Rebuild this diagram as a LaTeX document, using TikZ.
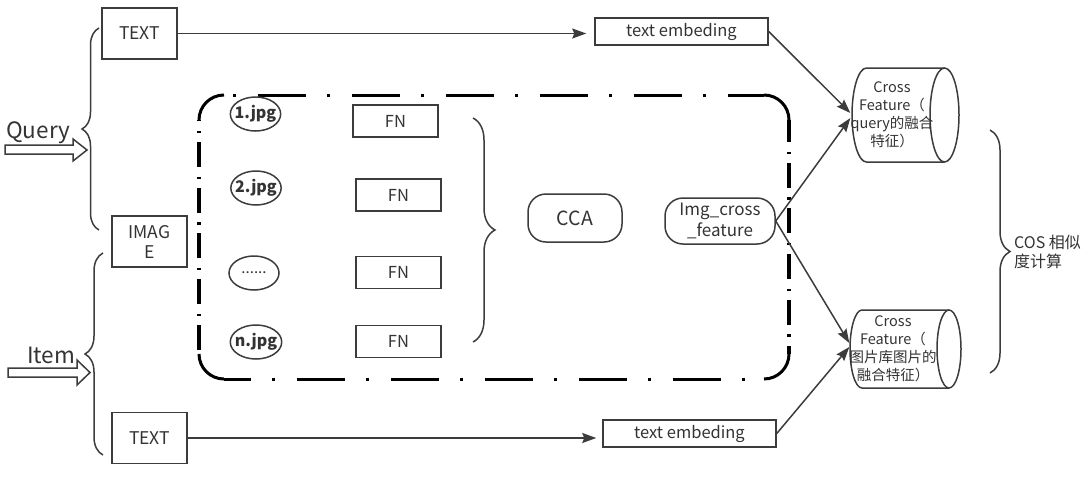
\documentclass[tikz,border=0pt]{standalone}
\usepackage{fontspec}
\setmainfont{Noto Sans CJK SC}
\usetikzlibrary{arrows.meta,decorations.pathreplacing,shapes.geometric}
\definecolor{ln}{HTML}{3C3C3C}
\definecolor{tx}{HTML}{333333}
\begin{document}
\begin{tikzpicture}[x=1pt,y=-1pt,
  every node/.style={text=tx, inner sep=0pt},
  box/.style={draw=ln, line width=1.5pt, minimum width=75pt, minimum height=51pt, font=\fontsize{17.5}{20}\selectfont, align=center},
  embox/.style={draw=ln, line width=1.5pt, minimum width=173pt, minimum height=27pt, font=\fontsize{16.5}{19}\selectfont},
  fnbox/.style={draw=ln, line width=1.5pt, minimum width=85pt, minimum height=32pt, font=\fontsize{16.5}{19}\selectfont},
  jpg/.style={draw=ln, line width=1.5pt, ellipse, inner xsep=-3pt, minimum width=50pt, minimum height=34pt, font=\bfseries\fontsize{16}{18}\selectfont},
  pill/.style={draw=ln, line width=1.5pt, rounded corners=18pt, align=center},
  cyltext/.style={align=center, font=\fontsize{14.5}{18}\selectfont},
  arr/.style={draw=ln, line width=1.5pt, -{Stealth[length=14pt,width=10pt,inset=2pt]}},
  brc/.style={draw=ln, line width=1.5pt, decorate},
  ddh/.style={draw=black, line width=3pt, dash pattern=on 48pt off 21pt on 3pt off 22pt},
  ddv/.style={draw=black, line width=3.5pt, dash pattern=on 25pt off 9.5pt on 2.5pt off 8.7pt},
  corner/.style={draw=black, line width=3pt},
  hollow/.style={draw=ln, line width=1.5pt, fill=white}
]
\useasboundingbox (0,0) rectangle (1089,480);

% left inputs
\node[box] (qtext) at (139.5,33.5) {TEXT};
\node[box] (image) at (149.5,241.5) {IMAG\\E};
\node[box] (itext) at (149.5,438) {TEXT};

\node[anchor=base west, font=\fontsize{22.5}{26}\selectfont] (qlab) at (6,138) {Query};
\node[anchor=base west, font=\fontsize{22.5}{26}\selectfont] (ilab) at (27,363) {Item};

\draw[hollow] (5,145) -- (73,145) -- (73,139) -- (87,150) -- (73,161) -- (73,154) -- (5,154) -- cycle;
\draw[hollow] (8,368) -- (77,368) -- (77,360) -- (90,372.5) -- (77,385) -- (77,377) -- (8,377) -- cycle;

\draw[brc, decoration={brace, amplitude=17pt}] (99,230) -- (99,28);
\draw[brc, decoration={brace, amplitude=18pt}] (103,455) -- (103,253);

% dash-dot frame
\draw[ddh, dash phase=60pt] (224,95) -- (764,95);
\draw[ddh, dash phase=21pt] (224,379) -- (764,379);
\draw[ddv, dash phase=23.7pt] (199,120) -- (199,354);
\draw[ddv, dash phase=3pt] (789,120) -- (789,354);
\draw[corner] (199,120) arc[start angle=180, end angle=270, radius=25];
\draw[corner] (764,95) arc[start angle=270, end angle=360, radius=25];
\draw[corner] (789,354) arc[start angle=0, end angle=90, radius=25];
\draw[corner] (224,379) arc[start angle=90, end angle=180, radius=25];

% images and FN
\node[jpg] (j1) at (255.5,114) {1.jpg};
\node[jpg] (j2) at (256,188) {2.jpg};
\node[jpg, font=\fontsize{15}{17}\selectfont] (j3) at (254,273) {......};
\node[jpg] (j4) at (256,342) {n.jpg};

\node[fnbox] (fn1) at (395.5,121) {FN};
\node[fnbox] (fn2) at (398.5,195) {FN};
\node[fnbox] (fn3) at (398.5,272.5) {FN};
\node[fnbox] (fn4) at (398.5,341.5) {FN};

\draw[brc, decoration={brace, amplitude=22pt}] (473,118) -- (473,342);

\node[pill, minimum width=94pt, minimum height=48pt, font=\fontsize{19.5}{22}\selectfont] (cca) at (575,218) {CCA};
\node[pill, minimum width=110pt, minimum height=46pt, font=\fontsize{17}{21}\selectfont] (img) at (720,221) {Img\_cross\\\_feature};

% embeddings
\node[embox] (qemb) at (681.5,31.5) {text embeding};
\node[embox] (iemb) at (689.5,433.5) {text embeding};

% cylinders
\draw[draw=ln, line width=1.5pt] (944.5,115) ellipse[x radius=14.5, y radius=47];
\draw[draw=ln, line width=1.5pt] (944.5,68) -- (866.5,68) arc[start angle=270, end angle=90, x radius=14.5, y radius=47] -- (944.5,162);
\node[cyltext, minimum width=82pt, minimum height=94pt] (cyl1) at (892,115) {Cross\\Feature（\\query的融合\\特征）};

\draw[draw=ln, line width=1.5pt] (949,349) ellipse[x radius=12, y radius=39];
\draw[draw=ln, line width=1.5pt] (949,310) -- (862,310) arc[start angle=270, end angle=90, x radius=12, y radius=39] -- (949,388);
\node[cyltext, minimum width=86pt, minimum height=78pt] (cyl2) at (893,349) {Cross\\Feature（\\图片库图片的\\融合特征）};

\draw[brc, decoration={brace, amplitude=20pt}] (990,130) -- (990,373);
\node[anchor=west, align=left, font=\fontsize{16}{19}\selectfont] (cos) at (1014,252) {COS 相似\\度计算};

% connectors
\draw[arr, shorten >=8pt] (qtext.east) -- (qtext.east -| qemb.west);
\draw[arr, shorten >=6pt] (itext.east) -- (itext.east -| iemb.west);
\draw[arr] (qemb.east) -- ([yshift=2pt]cyl1.west);
\draw[arr] (img.east) -- ([yshift=-3pt]cyl1.west);
\draw[arr] (img.east) -- ([yshift=6pt]cyl2.west);
\draw[arr] (iemb.east) -- ([yshift=2pt]cyl2.west);
\end{tikzpicture}
\end{document}
